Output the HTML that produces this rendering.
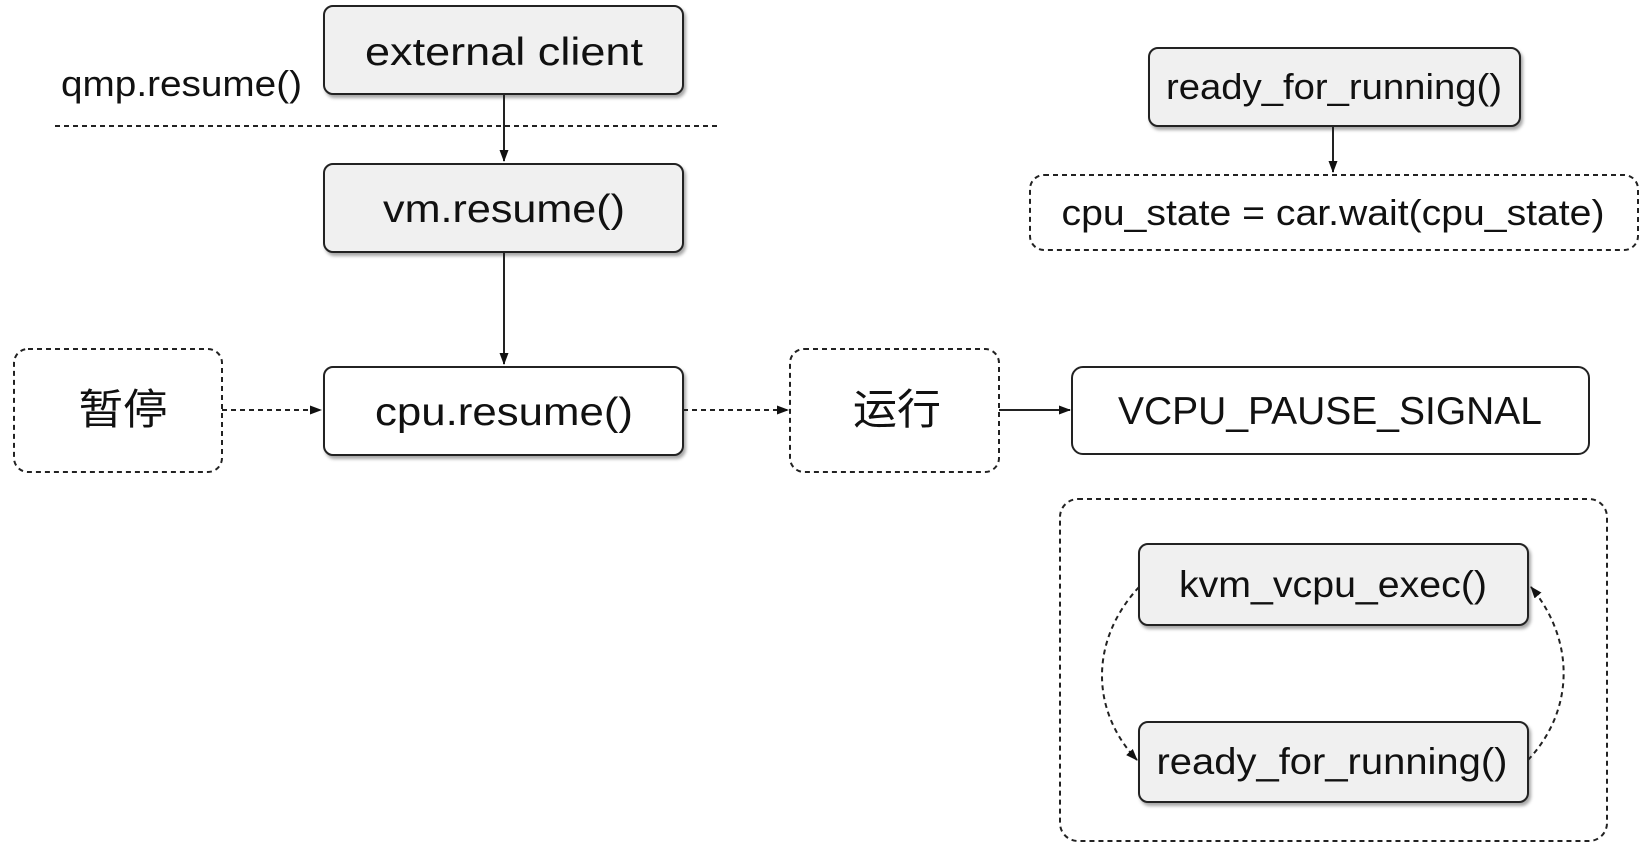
<!DOCTYPE html>
<html><head><meta charset="utf-8"><style>
body{margin:0;width:1645px;height:856px;background:#fff;overflow:hidden}
svg text{font-family:"Liberation Sans","Noto Sans CJK SC",sans-serif;fill:#111}
</style></head><body>
<svg width="1645" height="856" viewBox="0 0 1645 856" xmlns="http://www.w3.org/2000/svg">
<defs>
<marker id="a" markerWidth="12" markerHeight="12" refX="11" refY="6" orient="auto" markerUnits="userSpaceOnUse"><path d="M0,1.5 L12,6 L0,10.5 z" fill="#111"/></marker>
<filter id="s" x="-5%" y="-10%" width="115%" height="130%"><feDropShadow dx="2" dy="3" stdDeviation="1.5" flood-color="#000" flood-opacity="0.35"/></filter>
</defs>
<g stroke="#222" stroke-width="2">
<rect x="324" y="6" width="359" height="88" rx="9" fill="#f0f0f0" filter="url(#s)"/>
<rect x="324" y="164" width="359" height="88" rx="9" fill="#f0f0f0" filter="url(#s)"/>
<rect x="324" y="367" width="359" height="88" rx="9" fill="#fff" filter="url(#s)"/>
<rect x="14" y="349" width="208" height="123" rx="14" fill="none" stroke-dasharray="5,4"/>
<rect x="790" y="349" width="209" height="123" rx="14" fill="none" stroke-dasharray="5,4"/>
<rect x="1072" y="367" width="517" height="87" rx="11" fill="#fff"/>
<rect x="1149" y="48" width="371" height="78" rx="9" fill="#f0f0f0" filter="url(#s)"/>
<rect x="1030" y="175" width="608" height="75" rx="14" fill="none" stroke-dasharray="5,4"/>
<rect x="1060" y="499" width="547" height="342" rx="18" fill="none" stroke-dasharray="5,4"/>
<rect x="1139" y="544" width="389" height="81" rx="9" fill="#f0f0f0" filter="url(#s)"/>
<rect x="1139" y="722" width="389" height="80" rx="9" fill="#f0f0f0" filter="url(#s)"/>
<line x1="55" y1="126" x2="718" y2="126" stroke-dasharray="5,4"/>
<line x1="504" y1="94" x2="504" y2="161" marker-end="url(#a)"/>
<line x1="504" y1="252" x2="504" y2="364" marker-end="url(#a)"/>
<line x1="222" y1="410" x2="321" y2="410" stroke-dasharray="5,4" marker-end="url(#a)"/>
<line x1="683" y1="410" x2="788" y2="410" stroke-dasharray="5,4" marker-end="url(#a)"/>
<line x1="999" y1="410" x2="1070" y2="410" marker-end="url(#a)"/>
<line x1="1333" y1="126" x2="1333" y2="172" marker-end="url(#a)"/>
<path d="M1139,587 C1090,640 1090,710 1137,760" fill="none" stroke-dasharray="5,4" marker-end="url(#a)"/>
<path d="M1528,760 C1575,710 1575,640 1531,587" fill="none" stroke-dasharray="5,4" marker-end="url(#a)"/>
</g>
<g font-size="39" text-anchor="middle">
<text x="504" y="65" textLength="278" lengthAdjust="spacingAndGlyphs">external client</text>
<text x="504" y="222" textLength="242" lengthAdjust="spacingAndGlyphs">vm.resume()</text>
<text x="504" y="425" textLength="258" lengthAdjust="spacingAndGlyphs">cpu.resume()</text>
<text x="123" y="424" font-size="42" textLength="89" lengthAdjust="spacingAndGlyphs">暂停</text>
<text x="897" y="424" font-size="42" textLength="88" lengthAdjust="spacingAndGlyphs">运行</text>
<text x="1330" y="424" textLength="424" lengthAdjust="spacingAndGlyphs">VCPU_PAUSE_SIGNAL</text>
<text x="1334" y="99" font-size="36" textLength="336" lengthAdjust="spacingAndGlyphs">ready_for_running()</text>
<text x="1333" y="225" font-size="36" textLength="543" lengthAdjust="spacingAndGlyphs">cpu_state = car.wait(cpu_state)</text>
<text x="1333" y="597" font-size="37" textLength="308" lengthAdjust="spacingAndGlyphs">kvm_vcpu_exec()</text>
<text x="1332" y="774" font-size="37" textLength="351" lengthAdjust="spacingAndGlyphs">ready_for_running()</text>
</g>
<text x="61" y="96" font-size="36" textLength="241" lengthAdjust="spacingAndGlyphs">qmp.resume()</text>
</svg>
</body></html>
